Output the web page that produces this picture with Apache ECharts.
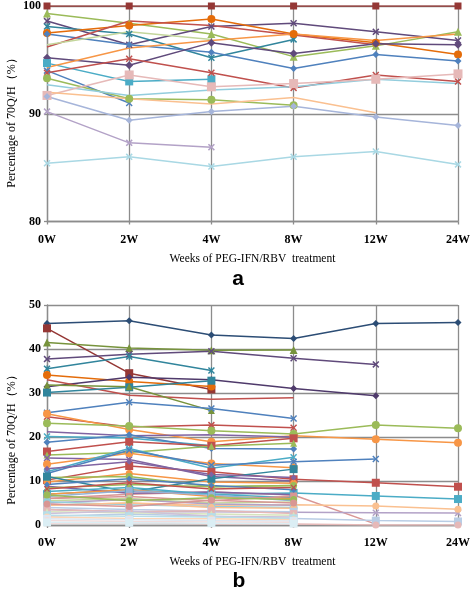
<!DOCTYPE html>
<html><head><meta charset="utf-8">
<script src="https://cdn.jsdelivr.net/npm/echarts@6/dist/echarts.min.js"></script>
<style>html,body{margin:0;padding:0;background:#fff}#c{width:473px;height:589px}</style>
</head><body><div id="c"></div>
<script>
// ---------- categories & ticks ----------
const weeks = ['0W','2W','4W','8W','12W','24W'];
const topTicks = [80, 90, 100];
const botTicks = [0, 10, 20, 30, 40, 50];
const xTitle = 'Weeks of PEG-IFN/RBV  treatment';
const yTitle = 'Percentage of 70Q/H（%）';

// ---------- panel a values ----------
const a01 = [100, 100, 100, 100, 100, 100];
const a02 = [99.3, 98.4, 97.4, 95.3, 96.3, 97.6];
const a03 = [98.6, 96.4, 98.1, 98.4, 97.6, 96.8];
const a04 = [98.1, 97.4, 95.2, 96.9, null, null];
const a05 = [97.5, 98.2, 98.8, 97.4, 96.6, 95.5];
const a06 = [97.4, 96.4, 95.7, 94.2, 95.5, 94.9];
const a07 = [96.2, 98.6, 98.2, 97.3, 96.4, null];
const a08 = [96.4, 97.6, 96.9, null, null, null];
const a09 = [95.2, 94.5, 96.6, 95.6, 96.5, 96.4];
const a10 = [94.7, 93.0, 93.2, null, null, null];
const a11 = [94.3, 96.1, 96.8, 97.4, 96.8, 97.4];
const a12 = [94.0, 91.0, null, null, null, null];
const a13 = [93.8, 95.1, 93.8, 92.4, 93.6, 93.0];
const a14 = [93.3, 91.4, 91.3, 90.8, null, null];
const a15 = [92.7, 91.7, 92.2, 92.5, 93.2, 92.8];
const a16 = [91.7, 93.6, 92.5, 92.8, 93.2, 93.7];
const a17 = [92.0, 91.4, 90.9, 91.5, 90.1, null];
const a18 = [91.6, 89.4, 90.2, 90.7, 89.7, 88.9];
const a19 = [90.2, 87.3, 86.9, null, null, null];
const a20 = [85.4, 86.0, 85.1, 86.0, 86.5, 85.3];

// ---------- panel b values ----------
const b01 = [45.8, 46.4, 43.2, 42.4, 45.8, 46.0];
const b02 = [44.7, 34.5, 30.8, null, null, null];
const b03 = [41.5, 40.2, 39.7, 39.8, null, null];
const b04 = [37.7, 38.8, 39.5, 37.9, 36.5, null];
const b05 = [35.5, 38.3, 35.1, null, null, null];
const b06 = [34.1, 32.6, 31.5, null, null, null];
const b07 = [31.4, 33.6, 33.0, 31.0, 29.4, null];
const b08 = [33.0, 29.5, 28.6, 28.9, null, null];
const b09 = [30.1, 31.3, 32.8, null, null, null];
const b10 = [31.8, 31.4, 26.0, null, null, null];
const b11 = [25.5, 27.9, 26.5, 24.2, null, null];
const b12 = [24.6, 22.3, 22.7, 22.1, null, null];
const b13 = [25.3, 21.7, 18.9, 20.3, 19.5, 18.7];
const b14 = [23.1, 22.5, 21.4, 20.7, 22.7, 22.0];
const b15 = [21.2, 20.3, 20.5, 20.0, null, null];
const b16 = [20.1, 19.8, 18.0, null, null, null];
const b17 = [18.8, 20.5, 17.4, 17.3, null, null];
const b18 = [16.7, 18.9, 18.0, 19.7, null, null];
const b19 = [15.9, 16.5, 17.9, 18.6, null, null];
const b20 = [15.2, 14.9, 11.0, 10.0, null, null];
const b21 = [13.8, 16.3, 14.0, 13.0, null, null];
const b22 = [12.1, 17.4, 12.9, 15.4, null, null];
const b23 = [11.7, 17.0, 13.6, 14.4, 15.0, null];
const b24 = [10.2, 13.4, 12.1, 10.4, 9.6, 8.7];
const b25 = [9.8, 11.7, 9.8, 9.5, null, null];
const b26 = [10.8, 11.0, 8.7, 9.0, null, null];
const b27 = [11.0, 7.5, 10.5, 12.7, null, null];
const b28 = [7.0, 8.0, 7.0, 7.3, 6.6, 5.9];
const b29 = [6.0, 7.0, 7.5, 6.8, 0.2, null];
const b30 = [2.0, 2.5, 2.0, 1.5, 1.0, 0.8];
const b31 = [3.5, 3.0, 3.0, 2.9, 2.8, 2.7];
const b32 = [4.5, 5.0, 4.5, 4.6, 4.3, 3.6];
const b33 = [0.5, 0.5, 0.3, 0.2, 0.0, 0.0];
const b34 = [8.8, 7.2, 7.5, 6.9, null, null];
const b35 = [7.6, 8.5, 7.0, 6.2, null, null];
const b36 = [7.0, 8.0, 6.5, 6.0, null, null];
const b37 = [8.4, 9.2, 8.7, 9.0, null, null];
const b38 = [6.5, 7.8, 6.8, 5.5, null, null];
const b39 = [6.0, 6.5, 5.5, 6.6, null, null];
const b40 = [5.5, 6.0, 5.0, 5.2, null, null];
const b41 = [5.0, 5.8, 4.8, 4.5, null, null];
const b42 = [5.3, 4.6, 4.2, 4.0, null, null];
const b43 = [4.5, 5.0, 4.0, 3.8, null, null];
const b44 = [4.0, 3.5, 3.2, 3.0, null, null];
const b45 = [3.5, 3.0, 3.3, 2.6, null, null];
const b46 = [3.0, 2.8, 2.5, 2.2, null, null];
const b47 = [2.6, 3.2, 2.0, 1.8, null, null];
const b48 = [2.2, 2.0, 1.8, 1.5, null, null];
const b49 = [1.8, 1.5, 1.4, 1.2, null, null];
const b50 = [1.4, 1.2, 1.0, 0.9, null, null];
const b51 = [1.0, 0.8, 0.7, 0.6, null, null];
const b52 = [0.6, 0.5, 0.4, 0.3, null, null];
const b53 = [9.2, 10.5, 9.0, 8.0, null, null];
const b54 = [8.2, 9.6, 8.2, 8.5, null, null];
const b55 = [12.8, 14.4, 11.5, 10.8, null, null];
const b56 = [6.8, 5.5, 6.2, 5.8, null, null];
const b57 = [4.8, 4.2, 5.6, 5.0, null, null];

// ---------- styling (kept separate from values) ----------
const SX = 'path://M0,1.5L1.5,0L5,3.5L8.5,0L10,1.5L6.5,5L10,8.5L8.5,10L5,6.5L1.5,10L0,8.5L3.5,5Z';
const SST = 'path://M0,1.5L1.5,0L5,3.5L8.5,0L10,1.5L6.5,5L10,8.5L8.5,10L5,6.5L1.5,10L0,8.5L3.5,5Z M4.3,0L5.7,0L5.7,10L4.3,10Z';
const S = {d:'diamond', s:'rect', t:'triangle', x:SX, a:SST, c:'circle', n:'none'};

const topStyle = [
 [a01,'#953735','s',7],[a02,'#9BBB59','t',8],[a03,'#604A7B','x',7],[a04,'#31859C','a',7],
 [a05,'#E46C0A','c',8],[a06,'#4F81BD','d',7],[a07,'#C0504D','n',0],[a08,'#C3D69B','n',0],
 [a09,'#604A7B','d',8],[a10,'#4BACC6','s',8],[a11,'#F79646','n',0],[a12,'#4F81BD','x',7],
 [a13,'#C0504D','x',7],[a14,'#9BBB59','c',8],[a15,'#93CDDD','n',0],[a16,'#E6B9B8','s',9],
 [a17,'#FAC090','n',0],[a18,'#A6B5DA','d',7],[a19,'#B3A2C7','x',7],[a20,'#A9D8E4','x',7]
];
const botStyle = [
 [b01,'#2C4D75','d',7],[b02,'#953735','s',8],[b03,'#77933C','t',8],[b04,'#604A7B','x',7],
 [b05,'#31859C','a',7],[b06,'#E46C0A','c',8],[b07,'#4F3A6B','d',7],[b08,'#C0504D','n',0],
 [b09,'#31859C','s',8],[b10,'#77933C','t',7],[b11,'#4F81BD','x',7],[b12,'#C0504D','x',7],
 [b13,'#F79646','c',8],[b14,'#9BBB59','c',8],[b15,'#8064A2','n',0],[b16,'#4BACC6','x',7],
 [b17,'#4F81BD','d',7],[b18,'#C0504D','s',8],[b19,'#9BBB59','t',7],[b20,'#8064A2','x',7],
 [b21,'#F79646','c',8],[b22,'#4BACC6','x',7],[b23,'#4F81BD','x',7],[b24,'#C0504D','s',8],
 [b25,'#F79646','c',7],[b26,'#9BBB59','c',7],[b27,'#31859C','s',8],[b28,'#4BACC6','s',8],
 [b29,'#D99694','n',0],[b30,'#B9CDE5','s',8],[b31,'#B3A2C7','x',7],[b32,'#FAC090','c',7],
 [b33,'#E6B9B8','c',7],[b34,'#8064A2','d',6],[b35,'#4BACC6','c',7],[b36,'#F79646','c',6],
 [b37,'#9BBB59','t',6],[b38,'#95B3D7','s',7],[b39,'#D99694','s',7],[b40,'#C3D69B','c',7],
 [b41,'#B3A2C7','x',6],[b42,'#93CDDD','c',8],[b43,'#FAC090','c',7],[b44,'#B9CDE5','s',8],
 [b45,'#E6B9B8','s',7],[b46,'#D7E4BD','t',7],[b47,'#CCC1DA','x',6],[b48,'#B7DEE8','s',8],
 [b49,'#FCD5B5','c',7],[b50,'#DCE6F2','s',8],[b51,'#F2DCDB','c',7],[b52,'#DBEEF4','s',8],
 [b53,'#4F81BD','d',6],[b54,'#C0504D','x',6],[b55,'#8064A2','d',6],[b56,'#9BBB59','c',7],
 [b57,'#D99694','c',7]
];

function mk(style, idx){
  return style.map(([data,color,sym,size]) => ({
    type:'line', xAxisIndex:idx, yAxisIndex:idx, data:data,
    symbol:S[sym], symbolSize:size, showSymbol: sym!=='n', showAllSymbol:true,
    lineStyle:{color:color,width:1.5}, itemStyle:{color:color},
    connectNulls:false, silent:true, z:2
  }));
}

const gridColor = '#8C8C8C';
const labFont = {fontFamily:'Liberation Serif', fontSize:12, fontWeight:'bold', color:'#000'};
function xAx(gi){
  return {type:'category', gridIndex:gi, data:weeks, boundaryGap:false,
    axisLine:{lineStyle:{color:gridColor,width:1.3}},
    axisTick:{show:true, length:3, lineStyle:{color:gridColor,width:1.3}},
    splitLine:{show:true, lineStyle:{color:gridColor,width:1.3}},
    axisLabel:Object.assign({margin:12}, labFont),
    name:xTitle, nameLocation:'middle', nameGap:31,
    nameTextStyle:{fontFamily:'Liberation Serif', fontSize:11.5, color:'#000'}};
}
function yAx(gi, ticks){
  return {type:'value', gridIndex:gi, min:ticks[0], max:ticks[ticks.length-1], interval:ticks[1]-ticks[0],
    axisLine:{show:true, lineStyle:{color:gridColor,width:1.3}},
    axisTick:{show:true, length:3, lineStyle:{color:gridColor,width:1.3}},
    splitLine:{show:true, lineStyle:{color:gridColor,width:1.3}},
    axisLabel:Object.assign({margin:6}, labFont)};
}

const chart = echarts.init(document.getElementById('c'), null, {renderer:'canvas'});
chart.setOption({
  animation:false, backgroundColor:'#fff',
  grid:[{left:47, right:13, top:4.5, height:217},{left:47, right:13, top:305, height:220}],
  xAxis:[xAx(0), xAx(1)],
  yAxis:[yAx(0, topTicks), yAx(1, botTicks)],
  series:[...mk(topStyle,0), ...mk(botStyle,1)],
  graphic:[
    {type:'text', x:12, y:120, rotation:Math.PI/2, style:{text:yTitle, font:'12px "Liberation Serif"', fill:'#000', align:'center', verticalAlign:'middle'}},
    {type:'text', x:12, y:437, rotation:Math.PI/2, style:{text:yTitle, font:'12px "Liberation Serif"', fill:'#000', align:'center', verticalAlign:'middle'}},
    {type:'text', x:238, y:279, style:{text:'a', font:'bold 21px "Liberation Sans"', fill:'#000', align:'center', verticalAlign:'middle'}},
    {type:'text', x:239, y:581, style:{text:'b', font:'bold 21px "Liberation Sans"', fill:'#000', align:'center', verticalAlign:'middle'}}
  ]
});
</script></body></html>
